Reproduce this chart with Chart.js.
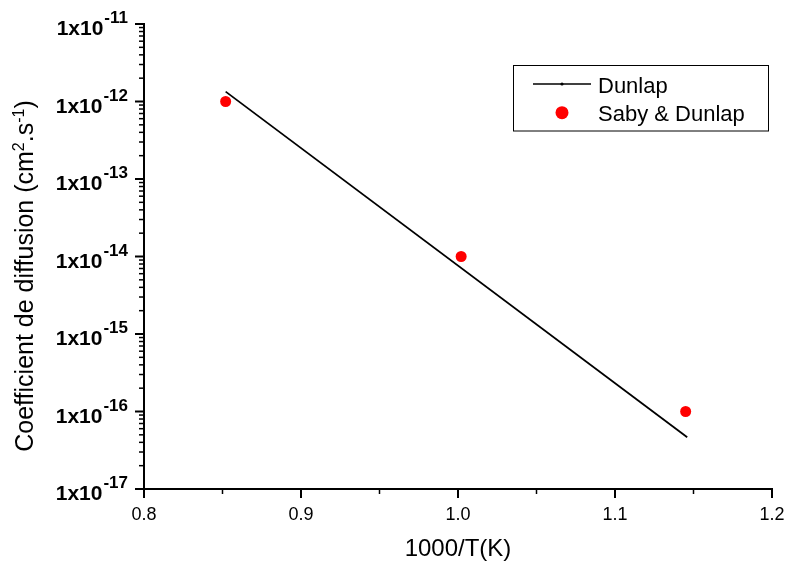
<!DOCTYPE html>
<html><head><meta charset="utf-8">
<script src="https://cdn.jsdelivr.net/npm/chart.js@4.4.0/dist/chart.umd.min.js"></script>
<style>html,body{margin:0;padding:0;background:#fff}#wrap{width:787px;height:565px}</style>
</head><body><div id="wrap"><canvas id="c" width="787" height="565"></canvas></div>
<script>
// ---- data ----
const dunlapX = [0.852, 1.146];
const dunlapY = [1.34e-12, 4.65e-17];
const sabyX = [0.852, 1.002, 1.145];
const sabyY = [1e-12, 1e-14, 1e-16];
const xTickValues = [0.8, 0.9, 1.0, 1.1, 1.2];
const yExponents = [-17, -16, -15, -14, -13, -12, -11];
const seriesNames = ['Dunlap', 'Saby & Dunlap'];
const xTitle = '1000/T(K)';
const yTitleParts = [['Coefficient de diffusion (cm', 0], ['2', 1], ['.s', 0], ['-1', 1], [')', 0]];

const FAM = "'Liberation Sans', Arial, Helvetica, sans-serif";

function line(ctx, x1, y1, x2, y2, w) {
  ctx.lineWidth = w; ctx.beginPath(); ctx.moveTo(x1, y1); ctx.lineTo(x2, y2); ctx.stroke();
}

const decorPlugin = {
  id: 'decor',
  afterDraw(chart) {
    const ctx = chart.ctx, yS = chart.scales.y, xS = chart.scales.x;
    const L = chart.chartArea.left, B = chart.chartArea.bottom;
    ctx.save();
    ctx.strokeStyle = '#000'; ctx.fillStyle = '#000';
    // y ticks + labels
    yExponents.forEach((e, i) => {
      const yp = yS.getPixelForValue(Math.pow(10, e));
      line(ctx, L - 9, yp, L, yp, 2);
      if (i < yExponents.length - 1) {
        for (let m = 2; m <= 9; m++) {
          const ym = yS.getPixelForValue(m * Math.pow(10, e));
          line(ctx, L - 5, ym, L, ym, 1.5);
        }
      }
      const base = '1x10', sup = String(e);
      ctx.font = 'bold 17px ' + FAM;
      const sw = ctx.measureText(sup).width;
      ctx.font = 'bold 21px ' + FAM;
      const bw = ctx.measureText(base).width;
      const right = 128;
      ctx.textAlign = 'left'; ctx.textBaseline = 'alphabetic';
      ctx.fillText(base, right - sw - bw - 1, yp + 11);
      ctx.font = 'bold 17px ' + FAM;
      ctx.fillText(sup, right - sw, yp - 1);
    });
    // x ticks
    for (let i = 0; i < xTickValues.length; i++) {
      const xp = xS.getPixelForValue(xTickValues[i]);
      line(ctx, xp, B, xp, B + 9, 2);
      if (i < xTickValues.length - 1) {
        const xm = xS.getPixelForValue((xTickValues[i] + xTickValues[i + 1]) / 2);
        line(ctx, xm, B, xm, B + 5, 1.5);
      }
    }
    // y title (rotated, with superscripts)
    ctx.save();
    ctx.translate(0, 276);
    ctx.rotate(-Math.PI / 2);
    const fN = '25px ' + FAM, fS = '16px ' + FAM;
    let tot = 0;
    yTitleParts.forEach(p => { ctx.font = p[1] ? fS : fN; tot += ctx.measureText(p[0]).width; });
    let cx = -tot / 2;
    ctx.textAlign = 'left'; ctx.textBaseline = 'alphabetic';
    yTitleParts.forEach(p => {
      ctx.font = p[1] ? fS : fN;
      ctx.fillText(p[0], cx, p[1] ? 33 - 9 : 33);
      cx += ctx.measureText(p[0]).width;
    });
    ctx.restore();
    // legend
    const ds = chart.data.datasets;
    ctx.lineWidth = 1; ctx.strokeStyle = '#000';
    ctx.strokeRect(513.5, 65.5, 255, 65.5);
    line(ctx, 533, 84, 591, 84, 1.5);
    ctx.beginPath(); ctx.arc(562, 84, 1.6, 0, Math.PI * 2); ctx.fill();
    ctx.fillStyle = '#ff0000';
    ctx.beginPath(); ctx.arc(562, 112.7, 6.5, 0, Math.PI * 2); ctx.fill();
    ctx.fillStyle = '#000';
    ctx.font = '22px ' + FAM; ctx.textAlign = 'left'; ctx.textBaseline = 'alphabetic';
    ctx.fillText(ds[0].label, 598, 92.5);
    ctx.fillText(ds[1].label, 598, 121);
    ctx.restore();
  }
};

new Chart(document.getElementById('c'), {
  type: 'scatter',
  data: {
    datasets: [
      { label: seriesNames[0], data: dunlapX.map((x, i) => ({ x, y: dunlapY[i] })), showLine: true,
        borderColor: '#000', borderWidth: 1.8, pointRadius: 0, fill: false },
      { label: seriesNames[1], data: sabyX.map((x, i) => ({ x, y: sabyY[i] })), showLine: false,
        pointRadius: 5.5, backgroundColor: '#ff0000', borderColor: '#ff0000', borderWidth: 0 }
    ]
  },
  options: {
    responsive: false, animation: false, devicePixelRatio: 1,
    layout: { padding: { left: 0, right: 15, top: 24, bottom: 0 } },
    plugins: { legend: { display: false }, tooltip: { enabled: false } },
    scales: {
      x: {
        type: 'linear', min: 0.8, max: 1.2,
        afterBuildTicks: s => { s.ticks = xTickValues.map(v => ({ value: v })); },
        ticks: { callback: v => Number(v).toFixed(1), font: { family: FAM, size: 18 }, color: '#000',
                 padding: 15, maxRotation: 0, autoSkip: false },
        grid: { display: false, drawTicks: false },
        border: { display: true, color: '#000', width: 2 },
        title: { display: true, text: xTitle, color: '#000', font: { family: FAM, size: 24 },
                 padding: { top: 0, bottom: 1 } },
        afterFit: s => { s.height = 76; s.paddingLeft = 0; s.paddingRight = 0; }
      },
      y: {
        type: 'logarithmic', min: 1e-17, max: 1e-11,
        ticks: { display: false },
        grid: { display: false, drawTicks: false },
        border: { display: true, color: '#000', width: 2 },
        afterFit: s => { s.width = 144; }
      }
    }
  },
  plugins: [decorPlugin]
});
</script>
</body></html>
